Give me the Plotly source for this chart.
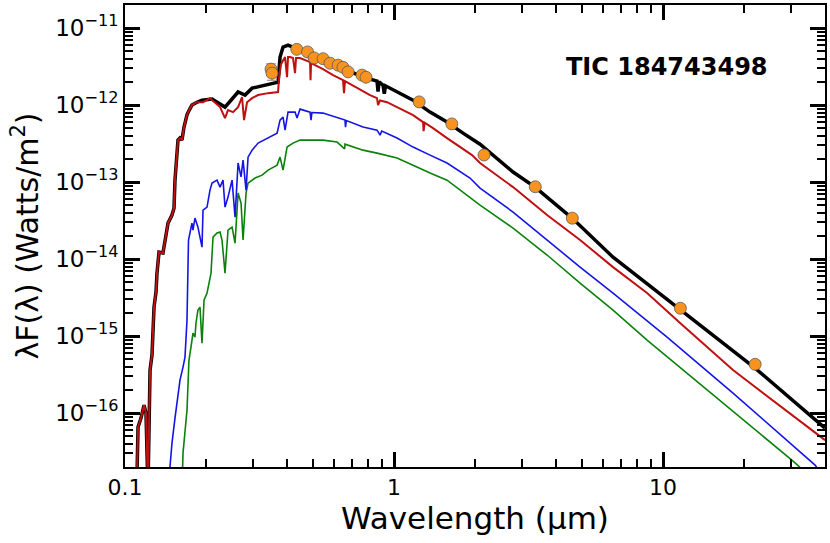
import plotly.graph_objects as go

# photometry (wavelength in micron, lambda*F in W/m^2)
phot_wl = [0.349, 0.352, 0.435, 0.477, 0.505, 0.545, 0.578, 0.620, 0.646, 0.675,
           0.760, 0.787, 1.24, 1.64, 2.16, 3.35, 4.60, 11.6, 22.0]
phot_flux = [2.93e-12, 2.60e-12, 5.3e-12, 4.9e-12, 4.1e-12, 4.0e-12, 3.5e-12, 3.3e-12,
             3.1e-12, 2.7e-12, 2.45e-12, 2.3e-12, 1.1e-12, 5.7e-13, 2.25e-13, 8.7e-14,
             3.4e-14, 2.3e-15, 4.3e-16]
phot_err = [0.5e-12, 0.5e-12, 0, 0, 0, 0, 0, 0, 0, 0, 0, 0, 0, 0, 0, 0, 0, 0, 0]

# total model (black)
tot_wl = [0.1105, 0.1118, 0.1147, 0.1177, 0.1197, 0.1207, 0.1217, 0.1239, 0.1260, 0.1282,
          0.1304, 0.1315, 0.1338, 0.1384, 0.1408, 0.1445, 0.1495, 0.1521, 0.1534, 0.1574,
          0.1601, 0.1629, 0.1657, 0.1700, 0.1729, 0.1774, 0.1852, 0.1933, 0.2106, 0.2354,
          0.2632, 0.2794, 0.2967, 0.3317, 0.3707, 0.3770, 0.3868, 0.4037, 0.4286, 0.4474,
          0.5000, 0.5783, 0.6688, 0.7670, 0.8355, 0.8647, 0.8721, 0.8800, 0.9102, 0.9200,
          0.9300, 1.026, 1.177, 1.361, 1.574, 1.805, 2.088, 2.770, 3.344, 4.589,
          6.518, 11.27, 21.98, 40.0]
tot_flux = [1e-17, 6.58e-17, 8.61e-17, 1.27e-16, 1.0e-16, 1e-17, 1e-17, 3.62e-16, 5.67e-16, 2.38e-15,
            3.73e-15, 6.58e-15, 1.23e-14, 1.20e-14, 1.77e-14, 2.93e-14, 3.73e-14, 4.59e-14, 1.06e-13, 3.51e-13,
            3.73e-13, 3.51e-13, 5.18e-13, 7.5e-13, 8.5e-13, 1.0e-12, 1.09e-12, 1.16e-12, 1.20e-12, 9.42e-13,
            1.48e-12, 1.35e-12, 1.66e-12, 1.82e-12, 1.99e-12, 4.2e-12, 5.67e-12, 6.01e-12, 5.5e-12, 5.18e-12,
            4.46e-12, 3.62e-12, 2.85e-12, 2.31e-12, 2.11e-12, 2.05e-12, 1.5e-12, 2.0e-12, 1.82e-12, 1.4e-12,
            1.78e-12, 1.48e-12, 1.16e-12, 8.11e-13, 6.02e-13, 4.33e-13, 3.1e-13, 1.35e-13, 8.61e-14, 3.41e-14,
            1.06e-14, 2.38e-15, 3.84e-16, 6.39e-17]

# red component
red_wl = [0.1105, 0.1118, 0.1147, 0.1177, 0.1197, 0.1207, 0.1217, 0.1239, 0.1260, 0.1282,
          0.1304, 0.1315, 0.1338, 0.1384, 0.1408, 0.1445, 0.1495, 0.1521, 0.1534, 0.1574,
          0.1601, 0.1629, 0.1657, 0.1700, 0.1729, 0.1774, 0.1852, 0.1950, 0.2070, 0.2161,
          0.2256, 0.2354, 0.2415, 0.2521, 0.2632, 0.2723, 0.2770, 0.2842, 0.2967, 0.3124,
          0.3403, 0.3707, 0.3738, 0.3802, 0.3868, 0.3935, 0.4003, 0.4037, 0.4107, 0.4213,
          0.4286, 0.4323, 0.4474, 0.4873, 0.4894, 0.4915, 0.5446, 0.5933, 0.6463, 0.6518,
          0.6574, 0.7290, 0.8142, 0.8647, 0.8721, 0.8872, 0.9419, 1.026, 1.177, 1.282,
          1.288, 1.300, 1.396, 1.574, 1.760, 1.950, 2.088, 2.770, 3.706, 4.915,
          6.518, 8.721, 11.57, 18.20, 40.0]
red_flux = [1e-17, 6.58e-17, 8.61e-17, 1.27e-16, 1.0e-16, 1e-17, 1e-17, 3.62e-16, 5.67e-16, 2.38e-15,
            3.73e-15, 6.58e-15, 1.23e-14, 1.20e-14, 1.77e-14, 2.93e-14, 3.73e-14, 4.59e-14, 1.06e-13, 3.51e-13,
            3.73e-13, 3.51e-13, 5.18e-13, 7.5e-13, 8.5e-13, 1.0e-12, 1.09e-12, 1.09e-12, 1.23e-12, 1.06e-12,
            9.42e-13, 6.78e-13, 8.61e-13, 8.11e-13, 9.42e-13, 1.27e-12, 6.39e-13, 1.09e-12, 1.23e-12, 1.35e-12,
            1.43e-12, 1.48e-12, 2.24e-12, 3.4e-12, 3.84e-12, 4.20e-12, 2.31e-12, 4.20e-12, 4.20e-12, 4.08e-12,
            2.6e-12, 4.08e-12, 4.08e-12, 3.62e-12, 2.11e-12, 3.5e-12, 2.93e-12, 2.45e-12, 2.11e-12, 1.43e-12,
            2.05e-12, 1.66e-12, 1.35e-12, 1.23e-12, 1.0e-12, 1.15e-12, 1.09e-12, 9.42e-13, 7.42e-13, 6.02e-13,
            4.6e-13, 5.9e-13, 5.03e-13, 3.73e-13, 2.85e-13, 2.24e-13, 1.77e-13, 8.61e-14, 3.73e-14, 1.77e-14,
            7.87e-15, 3.62e-15, 1.48e-15, 3.62e-16, 4.46e-17]

# blue component
blue_wl = [0.1445, 0.1495, 0.1534, 0.1561, 0.1601, 0.1643, 0.1671, 0.1700, 0.1715, 0.1722,
           0.1774, 0.1789, 0.1820, 0.1867, 0.1933, 0.1950, 0.2018, 0.2070, 0.2106, 0.2198,
           0.2256, 0.2314, 0.2354, 0.2415, 0.2500, 0.2565, 0.2632, 0.2700, 0.2747, 0.2818,
           0.2867, 0.2967, 0.3124, 0.3403, 0.3675, 0.3770, 0.3868, 0.3935, 0.4037, 0.4286,
           0.4360, 0.4474, 0.4873, 0.4915, 0.4950, 0.5446, 0.6140, 0.6574, 0.6600, 0.6650,
           0.7670, 0.8647, 0.8872, 0.9000, 1.026, 1.177, 1.361, 1.574, 1.916, 2.088,
           2.770, 3.706, 4.915, 6.518, 10.35, 18.20, 36.74, 40.0]
blue_flux = [1e-17, 4.08e-17, 8.61e-17, 1.48e-16, 2.68e-16, 3.96e-16, 5.34e-16, 1.61e-15, 6.58e-15, 1.77e-14,
             2.93e-14, 2.38e-14, 3.41e-14, 2.6e-14, 1.43e-14, 4.33e-14, 4.73e-14, 7.87e-14, 9.70e-14, 1.06e-13,
             8.61e-14, 1.06e-13, 4.73e-14, 6.39e-14, 1.06e-13, 3.51e-14, 1.77e-13, 1.17e-13, 1.93e-13, 7.87e-14,
             2.11e-13, 2.6e-13, 3.21e-13, 3.73e-13, 4.33e-13, 6.39e-13, 6.99e-13, 4.73e-13, 8.11e-13, 8.11e-13,
             6.78e-13, 8.87e-13, 8.11e-13, 6.39e-13, 8.0e-13, 7.87e-13, 6.99e-13, 6.39e-13, 5.18e-13, 6.3e-13,
             5.18e-13, 4.73e-13, 4.08e-13, 4.6e-13, 3.73e-13, 2.85e-13, 2.24e-13, 1.77e-13, 1.13e-13, 8.36e-14,
             4.08e-14, 1.77e-14, 7.87e-15, 3.62e-15, 9.70e-16, 1.82e-16, 2.11e-17, 1.4e-17]

# green component
green_wl = [0.1629, 0.1643, 0.1700, 0.1729, 0.1759, 0.1789, 0.1820, 0.1836, 0.1867, 0.1900,
            0.1933, 0.1967, 0.2018, 0.2053, 0.2088, 0.2124, 0.2198, 0.2256, 0.2294, 0.2354,
            0.2415, 0.2500, 0.2565, 0.2632, 0.2700, 0.2747, 0.2818, 0.2867, 0.3044, 0.3233,
            0.3403, 0.3675, 0.3770, 0.3868, 0.4003, 0.4213, 0.4474, 0.4873, 0.5446, 0.6140,
            0.6550, 0.6574, 0.7670, 0.8647, 1.026, 1.177, 1.361, 1.574, 2.088, 2.770,
            3.706, 4.915, 6.518, 8.721, 18.20, 30.43, 40.0]
green_flux = [1e-17, 3.02e-17, 1.09e-16, 4.88e-16, 7.20e-16, 1.09e-15, 9.70e-16, 1.48e-15, 2.18e-15, 2.38e-15,
              8.11e-16, 2.93e-15, 3.62e-15, 4.88e-15, 6.58e-15, 1.93e-14, 2.18e-14, 2.24e-14, 1.77e-14, 6.58e-15,
              2.38e-14, 2.6e-14, 1.61e-14, 7.20e-14, 5.34e-14, 1.77e-14, 7.20e-14, 9.70e-14, 1.13e-13, 1.23e-13,
              1.43e-13, 1.66e-13, 2.11e-13, 1.43e-13, 2.85e-13, 3.21e-13, 3.51e-13, 3.51e-13, 3.51e-13, 3.31e-13,
              2.7e-13, 3.11e-13, 2.60e-13, 2.38e-13, 2.05e-13, 1.66e-13, 1.31e-13, 1.06e-13, 5.03e-14, 2.53e-14,
              1.13e-14, 4.88e-15, 2.18e-15, 8.87e-16, 1.06e-16, 2.38e-17, 1e-17]

# axis ticks
x_major = [0.1, 1, 10]
x_labels = ["0.1", "1", "10"]
y_exp = [-16, -15, -14, -13, -12, -11]
y_major = [10.0 ** e for e in y_exp]
y_labels = ["10<sup>−%d</sup>" % -e for e in y_exp]
x_minor = [m * 10.0 ** e for e in range(-1, 2) for m in range(2, 10)]
y_minor = [m * 10.0 ** e for e in range(-17, -10) for m in range(2, 10)]

fnt = "DejaVu Sans"
xr = [-1, 1.602]
yr = [-16.70, -10.70]

fig = go.Figure()
fig.add_trace(go.Scatter(x=tot_wl, y=tot_flux, mode="lines",
                         line=dict(color="black", width=3.5)))
fig.add_trace(go.Scatter(x=green_wl, y=green_flux, mode="lines",
                         line=dict(color="#0a820a", width=1.6)))
fig.add_trace(go.Scatter(x=blue_wl, y=blue_flux, mode="lines",
                         line=dict(color="#1414e6", width=1.6)))
fig.add_trace(go.Scatter(x=red_wl, y=red_flux, mode="lines",
                         line=dict(color="#c01010", width=2)))
fig.add_trace(go.Scatter(x=phot_wl, y=phot_flux, mode="markers",
                         error_y=dict(type="data", array=phot_err, color="#888888",
                                      thickness=1, width=5),
                         marker=dict(color="#f7931e", size=12,
                                     line=dict(color="#5a5a5a", width=0.8))))
# invisible copy so the long-tick overlay axes get drawn
fig.add_trace(go.Scatter(x=phot_wl, y=phot_flux, mode="markers", xaxis="x2", yaxis="y2",
                         marker=dict(opacity=0), hoverinfo="skip"))

# target name
fig.add_annotation(text="<b>TIC 184743498</b>", xref="paper", yref="paper", x=0.774, y=0.866,
                   xanchor="center", yanchor="middle", showarrow=False,
                   font=dict(family=fnt, size=24, color="black"))

fig.update_layout(width=830, height=543, showlegend=False,
                  margin=dict(l=125, r=5, t=5, b=76),
                  paper_bgcolor="white", plot_bgcolor="white",
                  font=dict(family=fnt, color="black"))

# main axes: every tick short, labels only on decades
fig.layout.xaxis.update(type="log", range=xr,
                        tickvals=x_major + x_minor, ticktext=x_labels + [""] * len(x_minor),
                        ticks="inside", ticklen=8, tickwidth=2, tickcolor="black",
                        showline=True, linecolor="black", linewidth=2, mirror="allticks",
                        showgrid=False, zeroline=False, tickfont=dict(size=22), automargin=False,
                        title=dict(text="Wavelength (μm)", font=dict(size=31), standoff=0))
fig.layout.yaxis.update(type="log", range=yr,
                        tickvals=y_major + y_minor, ticktext=y_labels + [""] * len(y_minor),
                        ticks="inside", ticklen=8, tickwidth=2, tickcolor="black",
                        showline=True, linecolor="black", linewidth=2, mirror="allticks",
                        showgrid=False, zeroline=False, tickfont=dict(size=23), automargin=False,
                        title=dict(text="λF(λ) (Watts/m<sup>2</sup>)", font=dict(size=30), standoff=8))
# overlay axes: long decade ticks
fig.layout.xaxis2 = dict(type="log", range=xr, overlaying="x", side="bottom",
                         tickvals=x_major, showticklabels=False, automargin=False,
                         ticks="inside", ticklen=15, tickwidth=2.5, tickcolor="black",
                         showline=False, mirror="allticks", showgrid=False, zeroline=False)
fig.layout.yaxis2 = dict(type="log", range=yr, overlaying="y", side="left",
                         tickvals=y_major, showticklabels=False, automargin=False,
                         ticks="inside", ticklen=15, tickwidth=2.5, tickcolor="black",
                         showline=False, mirror="allticks", showgrid=False, zeroline=False)

# drop the default page margin so the figure sits at the window corner
fig.write_html("out.html", config={"displayModeBar": False},
               post_script="document.body.style.margin='0';")
